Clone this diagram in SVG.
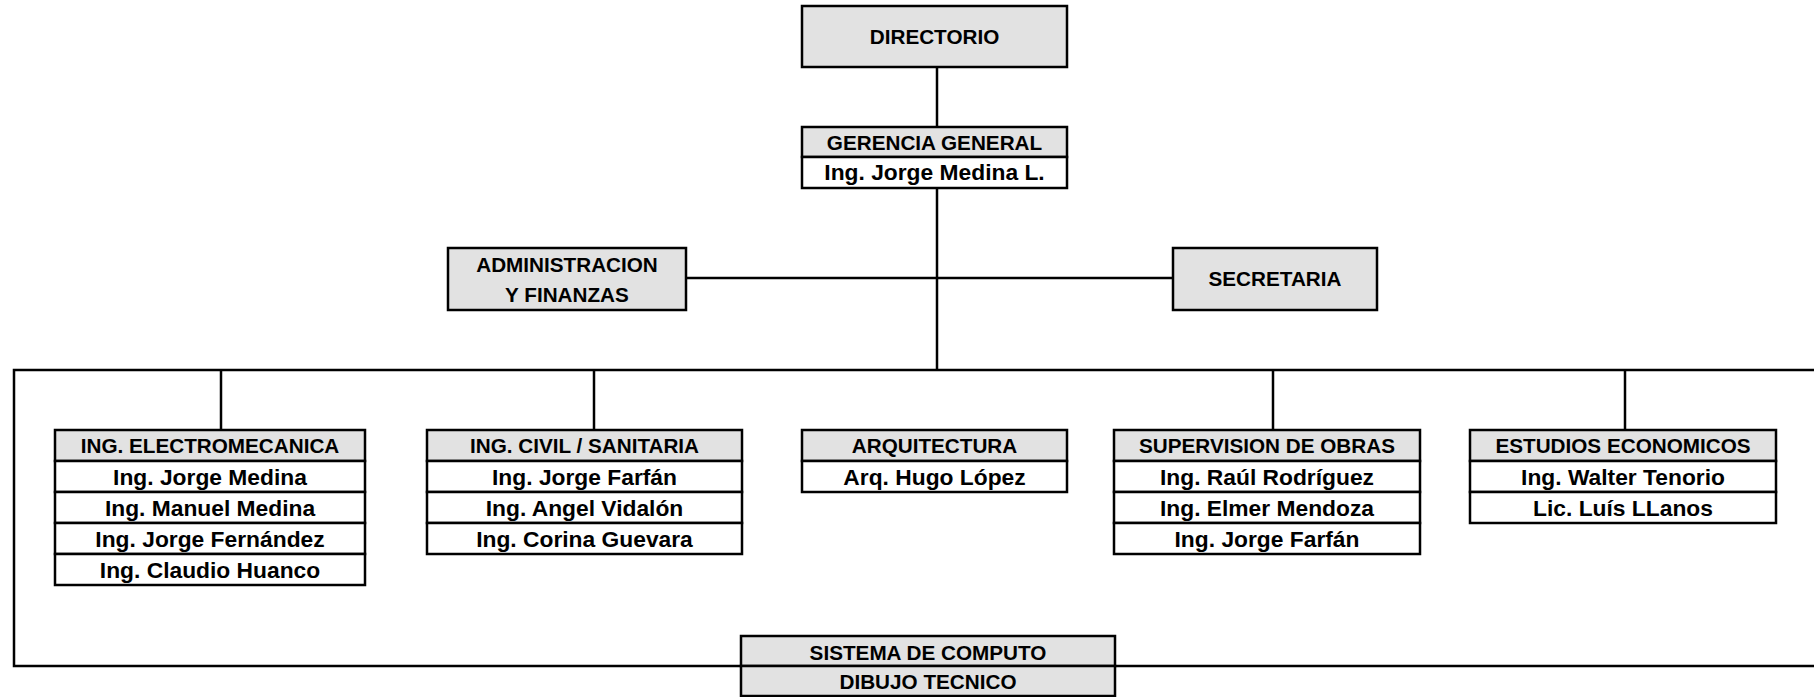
<svg xmlns="http://www.w3.org/2000/svg" width="1814" height="697" viewBox="0 0 1814 697">
<style>
.bg{fill:#ffffff}
.h{fill:#e2e2e2;stroke:#000;stroke-width:2.5}
.r{fill:#ffffff;stroke:#000;stroke-width:2.5}
.ln{stroke:#000;stroke-width:2.5;fill:none}
.th{font-family:"Liberation Sans",Arial,sans-serif;font-weight:bold;font-size:20.7px;fill:#000;text-anchor:middle}
.tn{font-family:"Liberation Sans",Arial,sans-serif;font-weight:bold;font-size:22.8px;fill:#000;text-anchor:middle}
</style>
<rect class="bg" x="0" y="0" width="1814" height="697"/>
<g id="connectors">
<line class="ln" x1="937" y1="67" x2="937" y2="127"/>
<line class="ln" x1="937" y1="188" x2="937" y2="370"/>
<line class="ln" x1="686" y1="278" x2="1173" y2="278"/>
<polyline class="ln" points="1814,370 14,370 14,666 1814,666"/>
<line class="ln" x1="221" y1="370" x2="221" y2="430"/>
<line class="ln" x1="594" y1="370" x2="594" y2="430"/>
<line class="ln" x1="1273" y1="370" x2="1273" y2="430"/>
<line class="ln" x1="1625" y1="370" x2="1625" y2="430"/>
</g>
<g id="directorio">
<rect class="h" x="802" y="6" width="265" height="61"/>
<text class="th" x="934.5" y="43.8">DIRECTORIO</text>
</g>
<g id="gerencia">
<rect class="h" x="802" y="127" width="265" height="30"/>
<rect class="r" x="802" y="157" width="265" height="31"/>
<text class="th" x="934.5" y="149.8">GERENCIA GENERAL</text>
<text class="tn" x="934.5" y="180.4">Ing. Jorge Medina L.</text>
</g>
<g id="administracion">
<rect class="h" x="448" y="248" width="238" height="62"/>
<text class="th" x="567" y="272.3">ADMINISTRACION</text>
<text class="th" x="567" y="302.3">Y FINANZAS</text>
</g>
<g id="secretaria">
<rect class="h" x="1173" y="248" width="204" height="62"/>
<text class="th" x="1275" y="286.3">SECRETARIA</text>
</g>
<g id="electromecanica">
<rect class="h" x="55" y="430" width="310" height="31"/>
<rect class="r" x="55" y="461" width="310" height="31"/>
<rect class="r" x="55" y="492" width="310" height="31"/>
<rect class="r" x="55" y="523" width="310" height="31"/>
<rect class="r" x="55" y="554" width="310" height="31"/>
<text class="th" x="210" y="453.3">ING. ELECTROMECANICA</text>
<text class="tn" x="210" y="484.9">Ing. Jorge Medina</text>
<text class="tn" x="210" y="515.9">Ing. Manuel Medina</text>
<text class="tn" x="210" y="546.9">Ing. Jorge Fernández</text>
<text class="tn" x="210" y="577.9">Ing. Claudio Huanco</text>
</g>
<g id="civil">
<rect class="h" x="427" y="430" width="315" height="31"/>
<rect class="r" x="427" y="461" width="315" height="31"/>
<rect class="r" x="427" y="492" width="315" height="31"/>
<rect class="r" x="427" y="523" width="315" height="31"/>
<text class="th" x="584.5" y="453.3">ING. CIVIL / SANITARIA</text>
<text class="tn" x="584.5" y="484.9">Ing. Jorge Farfán</text>
<text class="tn" x="584.5" y="515.9">Ing. Angel Vidalón</text>
<text class="tn" x="584.5" y="546.9">Ing. Corina Guevara</text>
</g>
<g id="arquitectura">
<rect class="h" x="802" y="430" width="265" height="31"/>
<rect class="r" x="802" y="461" width="265" height="31"/>
<text class="th" x="934.5" y="453.3">ARQUITECTURA</text>
<text class="tn" x="934.5" y="484.9">Arq. Hugo López</text>
</g>
<g id="supervision">
<rect class="h" x="1114" y="430" width="306" height="31"/>
<rect class="r" x="1114" y="461" width="306" height="31"/>
<rect class="r" x="1114" y="492" width="306" height="31"/>
<rect class="r" x="1114" y="523" width="306" height="31"/>
<text class="th" x="1267" y="453.3">SUPERVISION DE OBRAS</text>
<text class="tn" x="1267" y="484.9">Ing. Raúl Rodríguez</text>
<text class="tn" x="1267" y="515.9">Ing. Elmer Mendoza</text>
<text class="tn" x="1267" y="546.9">Ing. Jorge Farfán</text>
</g>
<g id="estudios">
<rect class="h" x="1470" y="430" width="306" height="31"/>
<rect class="r" x="1470" y="461" width="306" height="31"/>
<rect class="r" x="1470" y="492" width="306" height="31"/>
<text class="th" x="1623" y="453.3">ESTUDIOS ECONOMICOS</text>
<text class="tn" x="1623" y="484.9">Ing. Walter Tenorio</text>
<text class="tn" x="1623" y="515.9">Lic. Luís LLanos</text>
</g>
<g id="sistema">
<rect class="h" x="741" y="636" width="374" height="30"/>
<rect class="h" x="741" y="666" width="374" height="30"/>
<text class="th" x="928" y="659.8">SISTEMA DE COMPUTO</text>
<text class="th" x="928" y="689.3">DIBUJO TECNICO</text>
</g>
</svg>
